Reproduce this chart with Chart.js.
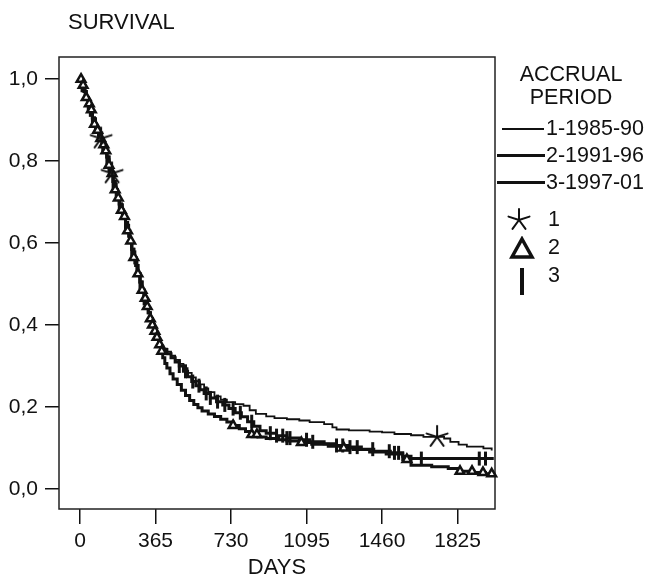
<!DOCTYPE html>
<html>
<head>
<meta charset="utf-8">
<script src="https://cdn.jsdelivr.net/npm/chart.js@4.4.1/dist/chart.umd.min.js"></script>
<style>
  html, body { margin: 0; padding: 0; background: #fff; }
  #wrap { position: relative; width: 647px; height: 576px; font-family: "Liberation Sans", Arial, sans-serif; color: #111; }
  #wrap canvas { position: absolute; left: 0; top: 0; }
  .txt { position: absolute; font-size: 21.5px; line-height: 21px; white-space: nowrap; }
  .ctr { width: 150px; text-align: center; left: 496px; }
  .bar { position: absolute; background: #111; }
  .sym { position: absolute; }
</style>
</head>
<body>
<div id="wrap">
  <canvas id="km" width="647" height="576"></canvas>
  <div class="txt" style="left:68px;top:11px;font-size:22px;">SURVIVAL</div>
  <div class="txt ctr" style="top:64px;">ACCRUAL</div>
  <div class="txt ctr" style="top:87px;">PERIOD</div>
  <div class="bar" style="left:502px;top:128px;width:42px;height:2px;"></div>
  <div class="txt" style="left:546px;top:118px;">1-1985-90</div>
  <div class="bar" style="left:497px;top:154px;width:48px;height:3px;"></div>
  <div class="txt" style="left:546px;top:145px;">2-1991-96</div>
  <div class="bar" style="left:497px;top:181px;width:48px;height:3px;"></div>
  <div class="txt" style="left:546px;top:172px;">3-1997-01</div>
  <svg class="sym" style="left:507px;top:208px;" width="24" height="24" viewBox="-12 -12 24 24">
    <g stroke="#111" stroke-width="2" stroke-linecap="round">
      <line x1="0" y1="0" x2="0" y2="-11"/><line x1="0" y1="0" x2="10.5" y2="-3.4"/>
      <line x1="0" y1="0" x2="-10.5" y2="-3.4"/><line x1="0" y1="0" x2="6.5" y2="8.9"/>
      <line x1="0" y1="0" x2="-6.5" y2="8.9"/>
    </g>
  </svg>
  <div class="txt" style="left:548px;top:209px;">1</div>
  <svg class="sym" style="left:509px;top:236px;" width="26" height="24" viewBox="0 0 26 24">
    <polygon points="13,3 23,21 3,21" fill="#fff" stroke="#111" stroke-width="3.5" stroke-linejoin="miter"/>
  </svg>
  <div class="txt" style="left:548px;top:237px;">2</div>
  <div class="bar" style="left:520px;top:268px;width:4px;height:27px;"></div>
  <div class="txt" style="left:548px;top:265px;">3</div>
</div>
<script>
// survival curves (days, survival proportion)
// the three periods are indistinguishable until ~day 370
var earlyDays = [0, 10, 20, 30, 40, 50, 60, 70, 80, 90, 100, 110, 120, 130, 140, 150, 160, 170, 180, 190,
                 200, 210, 220, 230, 240, 250, 260, 270, 280, 290, 300, 310, 320, 330, 340, 350, 360, 370];
var earlySurv = [1.0, 0.985, 0.97, 0.955, 0.94, 0.925, 0.905, 0.89, 0.875, 0.865, 0.855, 0.84, 0.825, 0.81, 0.79, 0.77, 0.75, 0.73, 0.71, 0.695,
                 0.68, 0.665, 0.65, 0.63, 0.605, 0.585, 0.565, 0.545, 0.525, 0.505, 0.485, 0.465, 0.445, 0.43, 0.415, 0.4, 0.385, 0.37];

// 1 - 1985-90
var p1Days = [380, 390, 400, 420, 440, 460, 480, 500, 520, 540, 560, 580, 600, 620, 650, 680, 710, 750, 790, 820,
              850, 900, 940, 1000, 1060, 1110, 1180, 1220, 1240, 1300, 1400, 1460, 1520, 1600, 1660, 1760, 1790, 1830, 1870, 1950, 1990];
var p1Surv = [0.36, 0.35, 0.342, 0.335, 0.325, 0.315, 0.305, 0.295, 0.283, 0.272, 0.263, 0.255, 0.245, 0.236, 0.226, 0.218, 0.212, 0.207, 0.203, 0.192,
              0.183, 0.177, 0.173, 0.17, 0.167, 0.163, 0.158, 0.15, 0.145, 0.143, 0.14, 0.138, 0.134, 0.131, 0.127, 0.123, 0.115, 0.108, 0.103, 0.099, 0.094];

// 2 - 1991-96
var p2Days = [380, 390, 400, 410, 420, 435, 450, 470, 490, 510, 530, 550, 570, 590, 620, 650, 680, 710, 740, 770,
              800, 830, 860, 900, 960, 1000, 1060, 1120, 1200, 1260, 1320, 1400, 1480, 1560, 1600, 1700, 1780, 1830, 1900, 1960, 2000];
var p2Surv = [0.352, 0.336, 0.32, 0.306, 0.295, 0.281, 0.268, 0.255, 0.241, 0.228, 0.216, 0.206, 0.198, 0.19, 0.183, 0.177, 0.17, 0.163, 0.155, 0.147,
              0.14, 0.133, 0.127, 0.123, 0.12, 0.117, 0.113, 0.109, 0.104, 0.1, 0.096, 0.09, 0.085, 0.072, 0.058, 0.054, 0.05, 0.043, 0.04, 0.037, 0.035];

// 3 - 1997-01
var p3Days = [380, 390, 400, 420, 440, 460, 480, 500, 520, 540, 560, 580, 600, 630, 660, 690, 720, 750, 780, 810,
              840, 870, 900, 950, 1000, 1060, 1110, 1180, 1240, 1300, 1360, 1420, 1500, 1560, 1600, 2000];
var p3Surv = [0.358, 0.348, 0.34, 0.33, 0.32, 0.31, 0.3, 0.287, 0.274, 0.262, 0.252, 0.242, 0.233, 0.222, 0.213, 0.205, 0.196, 0.186, 0.176, 0.164,
              0.153, 0.142, 0.136, 0.13, 0.124, 0.12, 0.115, 0.11, 0.106, 0.102, 0.097, 0.092, 0.088, 0.08, 0.074, 0.074];

// censored observations (days)
var p1Censor = [102, 155, 1726];
var p2Censor = [5, 15, 30, 45, 55, 70, 85, 100, 115, 125, 140, 155, 170, 185, 200, 215, 230, 245, 260, 280, 300, 315, 325, 340, 350, 362, 372, 385, 395,
                740, 830, 855, 1070, 1275, 1580, 1837, 1895, 1948, 1990];
var p3Censor = [10, 25, 40, 50, 60, 75, 90, 105, 110, 130, 140, 160, 175, 190, 205, 220, 235, 250, 265, 275, 290, 310,
                480, 510, 545, 575, 610, 630, 665, 700, 740, 775, 830, 920, 950, 980, 1000, 1015,
                1095, 1125, 1240, 1270, 1305, 1340, 1415, 1495, 1520, 1540, 1650, 1930, 1960];

var xTicks = [0, 365, 730, 1095, 1460, 1825];
var yTicks = [0.0, 0.2, 0.4, 0.6, 0.8, 1.0];

function curve(days, surv) {
    var pts = [];
    earlyDays.forEach(function (d, i) { pts.push({x: d, y: earlySurv[i]}); });
    days.forEach(function (d, i) { pts.push({x: d, y: surv[i]}); });
    return pts;
}

// survival of a curve at a given day (step function)
function survAt(pts, day) {
    var s = pts[0].y;
    for (var i = 0; i < pts.length; i++) {
        if (pts[i].x <= day) s = pts[i].y;
    }
    return s;
}

function censorPoints(pts, days) {
    return days.map(function (d) { return {x: d, y: survAt(pts, d)}; });
}

var c1 = curve(p1Days, p1Surv);
var c2 = curve(p2Days, p2Surv);
var c3 = curve(p3Days, p3Surv);

// 5-armed asterisk used for period 1
function makeStar(r) {
    var cv = document.createElement('canvas');
    cv.width = cv.height = r * 2 + 4;
    var g = cv.getContext('2d');
    g.strokeStyle = '#111';
    g.lineWidth = 2;
    g.lineCap = 'round';
    g.translate(r + 2, r + 2);
    for (var k = 0; k < 5; k++) {
        var a = -Math.PI / 2 + k * 2 * Math.PI / 5;
        g.beginPath();
        g.moveTo(0, 0);
        g.lineTo(r * Math.cos(a), r * Math.sin(a));
        g.stroke();
    }
    return cv;
}
var starImg = makeStar(11);

var boxPlugin = {
    id: 'box',
    beforeDatasetsDraw: function (chart) {
        var a = chart.chartArea, ctx = chart.ctx;
        ctx.save();
        ctx.strokeStyle = '#222';
        ctx.lineWidth = 1.5;
        ctx.strokeRect(a.left, a.top, a.right - a.left, a.bottom - a.top);
        ctx.restore();
    }
};

var fontFam = '"Liberation Sans", Arial, sans-serif';
var lineBase = {type: 'line', stepped: true, pointRadius: 0, borderColor: '#111', fill: false, order: 2};

new Chart(document.getElementById('km'), {
    type: 'line',
    data: {
        datasets: [
            Object.assign({}, lineBase, {label: '1-1985-90', data: c1, borderWidth: 1.8}),
            Object.assign({}, lineBase, {label: '2-1991-96', data: c2, borderWidth: 3}),
            Object.assign({}, lineBase, {label: '3-1997-01', data: c3, borderWidth: 3}),
            {type: 'scatter', label: '1', data: censorPoints(c1, p1Censor), pointStyle: starImg, pointRadius: 11, order: 1, clip: 12},
            {type: 'scatter', label: '2', data: censorPoints(c2, p2Censor), pointStyle: 'triangle', pointRadius: 5,
             borderColor: '#111', backgroundColor: '#fff', borderWidth: 2.5, order: 1, clip: 8},
            {type: 'scatter', label: '3', data: censorPoints(c3, p3Censor), pointStyle: 'line', rotation: 90, pointRadius: 7,
             borderColor: '#111', borderWidth: 3, order: 1, clip: 8}
        ]
    },
    options: {
        responsive: false,
        animation: false,
        devicePixelRatio: 1,
        layout: {padding: {left: 0, right: 152, top: 57, bottom: 0}},
        plugins: {legend: {display: false}, tooltip: {enabled: false}},
        scales: {
            x: {
                type: 'linear',
                min: -101.5,
                max: 2006,
                afterBuildTicks: function (s) { s.ticks = xTicks.map(function (v) { return {value: v}; }); },
                afterFit: function (s) { s.height = 67; },
                grid: {drawOnChartArea: false, drawTicks: true, tickLength: 15, color: '#111', lineWidth: 1.5},
                border: {display: false},
                ticks: {color: '#111', padding: 5, maxRotation: 0, autoSkip: false,
                        font: {family: fontFam, size: 21},
                        callback: function (v) { return String(v); }},
                title: {display: true, text: 'DAYS', color: '#111', padding: {top: 0, bottom: 0},
                        font: {family: fontFam, size: 22, lineHeight: 0.75}}
            },
            y: {
                type: 'linear',
                min: -0.049,
                max: 1.054,
                afterBuildTicks: function (s) { s.ticks = yTicks.map(function (v) { return {value: v}; }); },
                afterFit: function (s) { s.width = 59; },
                grid: {drawOnChartArea: false, drawTicks: true, tickLength: 14, color: '#111', lineWidth: 1.5},
                border: {display: false},
                ticks: {color: '#111', padding: 7,
                        font: {family: fontFam, size: 21},
                        callback: function (v) { return v.toFixed(1).replace('.', ','); }}
            }
        }
    },
    plugins: [boxPlugin]
});
</script>
</body>
</html>
